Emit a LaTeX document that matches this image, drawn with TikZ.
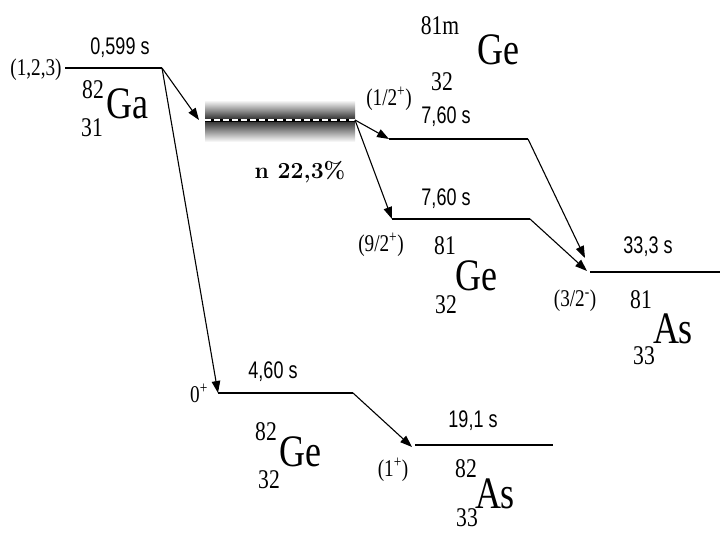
\documentclass[tikz,border=0pt]{standalone}
\usepackage{fontspec}
\newfontfamily\csans[FakeStretch=0.75]{Liberation Sans}
\newfontfamily\cserif[FakeStretch=0.8]{Liberation Serif}
\newfontfamily\eserif[FakeStretch=0.8]{Liberation Serif}
\usetikzlibrary{arrows.meta}
\begin{document}
\begin{tikzpicture}[x=1pt,y=-1pt,
 lvl/.style={line width=1.5pt},
 arr/.style={line width=1.1pt,-{Triangle[length=12pt,width=8.5pt]}},
 tlabel/.style={font=\csans\fontsize{24}{24}\selectfont,inner sep=0},
 spin/.style={font=\cserif\fontsize{24}{24}\selectfont,inner sep=0},
 mass/.style={font=\cserif\fontsize{27}{27}\selectfont,inner sep=0},
 elem/.style={font=\eserif\fontsize{45}{45}\selectfont,inner sep=0},
]
\useasboundingbox (0,0) rectangle (720,533);
% levels
\coordinate (gaL) at (65,68);   \coordinate (gaR) at (162,68);
\coordinate (bL) at (205,120);  \coordinate (bR) at (355,120);
\coordinate (gmL) at (389,139); \coordinate (gmR) at (528,139);
\coordinate (g1L) at (392,219); \coordinate (g1R) at (530,219);
\coordinate (a1L) at (590,272); \coordinate (a1R) at (720,272);
\coordinate (g2L) at (218,393); \coordinate (g2R) at (353,393);
\coordinate (a2L) at (415,445); \coordinate (a2R) at (553,445);
\coordinate (tipB) at (199,120);
\coordinate (tipA1) at (585,258);
\coordinate (tipA1b) at (587,271);
\coordinate (tipA2) at (412,447);
% band
\shade[top color=white,bottom color=black!85] (205,100) rectangle (355,120);
\shade[top color=black!85,bottom color=white] (205,120) rectangle (355,142);
\draw[black,line width=3pt] (bL) -- (bR);
\draw[white,line width=1.1pt,dash pattern=on 6pt off 3pt] (bL) -- (bR);
% level lines
\draw[lvl] (gaL) -- (gaR);
\draw[lvl] (gmL) -- (gmR);
\draw[lvl] (g1L) -- (g1R);
\draw[lvl] (a1L) -- (a1R);
\draw[lvl] (g2L) -- (g2R);
\draw[lvl] (a2L) -- (a2R);
% arrows
\draw[arr] (gaR) -- (tipB);
\draw[arr] (gaR) -- (g2L);
\draw[arr] (bR) -- (gmL);
\draw[arr] (bR) -- (g1L);
\draw[arr] (gmR) -- (tipA1);
\draw[arr] (g1R) -- (tipA1b);
\draw[arr] (g2R) -- (tipA2);
% labels
\node[spin] (s123) at (36,70) {(1,2,3)};
\node[tlabel] (t0) at (120,48) {0,599 s};
\node[mass] (ga82) at (93,90) {82};
\node[elem] (ga) at (127,104) {Ga};
\node[mass] (ga31) at (92,128) {31};
\node[spin] (s12) at (389,99) {(1/2\textsuperscript{+})};
\node[tlabel] (t1) at (446,117) {7,60 s};
\node[tlabel] (t2) at (446,199) {7,60 s};
\node[spin] (s92) at (381,245) {(9/2\textsuperscript{+})};
\node[mass] (gm81) at (440,26) {81m};
\node[elem] (gm) at (498,50) {Ge};
\node[mass] (gm32) at (442,82) {32};
\node[font=\bfseries\fontsize{23}{23}\selectfont,inner sep=0] (n) at (300,172) {n 22,3\%};
\node[mass] (g81) at (445,246) {81};
\node[elem] (g1) at (476,276) {Ge};
\node[mass] (g32) at (446,305) {32};
\node[tlabel] (t3) at (648,247) {33,3 s};
\node[spin] (s32) at (575,301) {(3/2\textsuperscript{-})};
\node[mass] (a81) at (641,300) {81};
\node[elem] (a1) at (673,329) {As};
\node[mass] (a33) at (644,356) {33};
\node[spin] (s0) at (199,393) {0\textsuperscript{+}};
\node[tlabel] (t4) at (273,372) {4,60 s};
\node[mass] (g82) at (266,432) {82};
\node[elem] (g2) at (300,452) {Ge};
\node[mass] (g232) at (269,480) {32};
\node[tlabel] (t5) at (473,421) {19,1 s};
\node[spin] (s1) at (393,470) {(1\textsuperscript{+})};
\node[mass] (a82) at (466,469) {82};
\node[elem] (a2) at (495,494) {As};
\node[mass] (a233) at (467,518) {33};
\end{tikzpicture}
\end{document}
